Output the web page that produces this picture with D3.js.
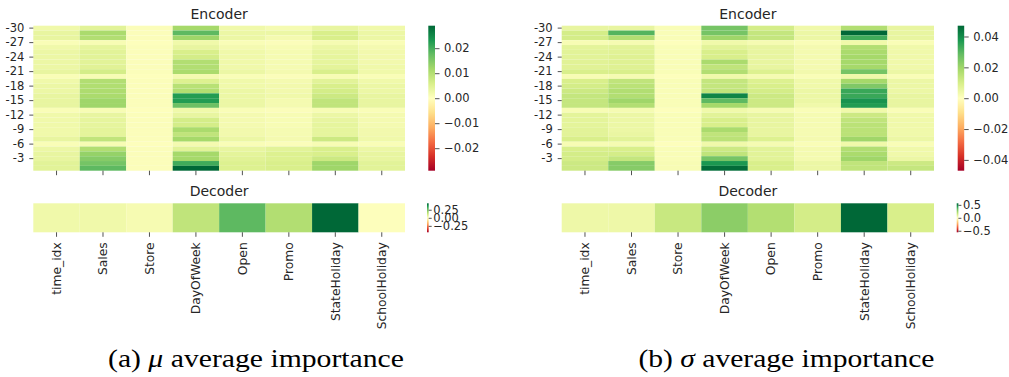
<!DOCTYPE html>
<html>
<head>
<meta charset="utf-8">
<script src="https://cdn.jsdelivr.net/npm/d3@7"></script>
<style>
  html, body { margin: 0; padding: 0; background: #fff; }
  svg { display: block; }
  .sans { font-family: "DejaVu Sans", sans-serif; fill: #262626; }
  .caption { font-family: "Liberation Serif", "Times New Roman", serif; fill: #000; }
</style>
</head>
<body>
<svg id="chart" width="1009" height="377"></svg>
<script>
// Model inputs (columns) and encoder lags (rows)
const features = ["time_idx", "Sales", "Store", "DayOfWeek", "Open", "Promo", "StateHoliday", "SchoolHoliday"];
const lags = [-30, -29, -28, -27, -26, -25, -24, -23, -22, -21, -20, -19, -18, -17, -16,
              -15, -14, -13, -12, -11, -10, -9, -8, -7, -6, -5, -4, -3, -2, -1];
const lagTicks = [-30, -27, -24, -21, -18, -15, -12, -9, -6, -3];

// (a) mu: encoder importance, one row per lag, columns in feature order
const encoderMu = [
  [0.0023, 0.0044, 0.0006, 0.0116, 0.0023, 0.0015, 0.0035, 0.0023],
  [0.0035, 0.0110, 0.0006, 0.0180, 0.0029, 0.0029, 0.0058, 0.0029],
  [0.0035, 0.0102, 0.0006, 0.0122, 0.0029, 0.0017, 0.0058, 0.0029],
  [0.0009, 0.0012, 0.0003, 0.0023, 0.0009, 0.0006, 0.0015, 0.0009],
  [0.0023, 0.0038, 0.0006, 0.0035, 0.0017, 0.0012, 0.0029, 0.0017],
  [0.0029, 0.0044, 0.0006, 0.0058, 0.0023, 0.0015, 0.0035, 0.0020],
  [0.0029, 0.0044, 0.0006, 0.0064, 0.0023, 0.0015, 0.0038, 0.0020],
  [0.0029, 0.0044, 0.0006, 0.0102, 0.0023, 0.0015, 0.0038, 0.0020],
  [0.0029, 0.0046, 0.0006, 0.0102, 0.0023, 0.0015, 0.0041, 0.0023],
  [0.0035, 0.0064, 0.0006, 0.0110, 0.0029, 0.0017, 0.0058, 0.0023],
  [0.0009, 0.0012, 0.0003, 0.0017, 0.0009, 0.0006, 0.0012, 0.0009],
  [0.0023, 0.0102, 0.0006, 0.0052, 0.0023, 0.0017, 0.0044, 0.0023],
  [0.0029, 0.0104, 0.0006, 0.0096, 0.0023, 0.0020, 0.0058, 0.0029],
  [0.0029, 0.0107, 0.0006, 0.0104, 0.0029, 0.0020, 0.0064, 0.0029],
  [0.0035, 0.0110, 0.0006, 0.0226, 0.0029, 0.0023, 0.0073, 0.0035],
  [0.0035, 0.0122, 0.0006, 0.0226, 0.0029, 0.0017, 0.0087, 0.0035],
  [0.0035, 0.0122, 0.0006, 0.0168, 0.0029, 0.0017, 0.0087, 0.0035],
  [0.0009, 0.0012, 0.0003, 0.0023, 0.0009, 0.0006, 0.0012, 0.0009],
  [0.0023, 0.0035, 0.0006, 0.0035, 0.0017, 0.0012, 0.0029, 0.0017],
  [0.0023, 0.0038, 0.0006, 0.0064, 0.0017, 0.0012, 0.0035, 0.0017],
  [0.0023, 0.0038, 0.0006, 0.0064, 0.0017, 0.0012, 0.0038, 0.0017],
  [0.0023, 0.0041, 0.0006, 0.0110, 0.0020, 0.0015, 0.0038, 0.0020],
  [0.0023, 0.0041, 0.0006, 0.0087, 0.0020, 0.0015, 0.0038, 0.0020],
  [0.0035, 0.0087, 0.0006, 0.0116, 0.0029, 0.0017, 0.0073, 0.0023],
  [0.0009, 0.0012, 0.0003, 0.0017, 0.0009, 0.0006, 0.0012, 0.0009],
  [0.0029, 0.0102, 0.0006, 0.0044, 0.0035, 0.0044, 0.0058, 0.0029],
  [0.0035, 0.0131, 0.0006, 0.0116, 0.0041, 0.0052, 0.0058, 0.0035],
  [0.0035, 0.0145, 0.0006, 0.0116, 0.0046, 0.0052, 0.0073, 0.0035],
  [0.0044, 0.0160, 0.0006, 0.0203, 0.0052, 0.0058, 0.0122, 0.0044],
  [0.0044, 0.0180, 0.0006, 0.0290, 0.0052, 0.0058, 0.0122, 0.0044]
];
const decoderMu = [0.036, 0.036, 0.022, 0.135, 0.280, 0.158, 0.450, 0.005];

// (b) sigma: encoder importance, one row per lag, columns in feature order
const encoderSigma = [
  [0.0056, 0.0056, 0.0014, 0.0259, 0.0103, 0.0038, 0.0165, 0.0056],
  [0.0103, 0.0306, 0.0014, 0.0259, 0.0132, 0.0047, 0.0470, 0.0056],
  [0.0103, 0.0165, 0.0014, 0.0197, 0.0132, 0.0047, 0.0329, 0.0056],
  [0.0019, 0.0024, 0.0005, 0.0038, 0.0024, 0.0014, 0.0038, 0.0014],
  [0.0066, 0.0071, 0.0014, 0.0071, 0.0056, 0.0028, 0.0165, 0.0038],
  [0.0071, 0.0075, 0.0014, 0.0094, 0.0056, 0.0028, 0.0179, 0.0038],
  [0.0071, 0.0080, 0.0014, 0.0094, 0.0056, 0.0028, 0.0188, 0.0038],
  [0.0075, 0.0080, 0.0014, 0.0179, 0.0056, 0.0028, 0.0188, 0.0038],
  [0.0075, 0.0080, 0.0014, 0.0141, 0.0056, 0.0028, 0.0188, 0.0038],
  [0.0094, 0.0094, 0.0014, 0.0165, 0.0085, 0.0033, 0.0259, 0.0047],
  [0.0019, 0.0024, 0.0005, 0.0038, 0.0024, 0.0014, 0.0038, 0.0014],
  [0.0094, 0.0141, 0.0014, 0.0132, 0.0085, 0.0038, 0.0188, 0.0047],
  [0.0103, 0.0150, 0.0014, 0.0132, 0.0094, 0.0038, 0.0244, 0.0047],
  [0.0118, 0.0165, 0.0014, 0.0141, 0.0103, 0.0047, 0.0338, 0.0047],
  [0.0132, 0.0165, 0.0014, 0.0414, 0.0118, 0.0047, 0.0338, 0.0056],
  [0.0132, 0.0197, 0.0014, 0.0291, 0.0118, 0.0047, 0.0385, 0.0056],
  [0.0132, 0.0165, 0.0014, 0.0188, 0.0118, 0.0038, 0.0367, 0.0056],
  [0.0019, 0.0024, 0.0005, 0.0038, 0.0024, 0.0014, 0.0038, 0.0014],
  [0.0066, 0.0047, 0.0014, 0.0071, 0.0056, 0.0024, 0.0118, 0.0038],
  [0.0066, 0.0047, 0.0014, 0.0094, 0.0056, 0.0024, 0.0141, 0.0038],
  [0.0066, 0.0047, 0.0014, 0.0094, 0.0056, 0.0024, 0.0150, 0.0038],
  [0.0071, 0.0047, 0.0014, 0.0179, 0.0056, 0.0024, 0.0150, 0.0038],
  [0.0071, 0.0052, 0.0014, 0.0141, 0.0056, 0.0024, 0.0150, 0.0038],
  [0.0094, 0.0071, 0.0014, 0.0150, 0.0085, 0.0028, 0.0197, 0.0047],
  [0.0019, 0.0024, 0.0005, 0.0038, 0.0024, 0.0014, 0.0038, 0.0014],
  [0.0094, 0.0094, 0.0014, 0.0118, 0.0071, 0.0028, 0.0165, 0.0038],
  [0.0103, 0.0103, 0.0014, 0.0141, 0.0071, 0.0028, 0.0179, 0.0038],
  [0.0103, 0.0132, 0.0014, 0.0259, 0.0071, 0.0028, 0.0197, 0.0047],
  [0.0118, 0.0235, 0.0019, 0.0376, 0.0094, 0.0047, 0.0141, 0.0118],
  [0.0118, 0.0235, 0.0019, 0.0461, 0.0094, 0.0047, 0.0141, 0.0132]
];
const decoderSigma = [0.050, 0.050, 0.150, 0.270, 0.196, 0.123, 0.560, 0.112];

// Colorbar tick values
const encMuTicks = [0.02, 0.01, 0.00, -0.01, -0.02];
const decMuTicks = [0.25, 0.00, -0.25];
const encSigmaTicks = [0.04, 0.02, 0.00, -0.02, -0.04];
const decSigmaTicks = [0.5, 0.0, -0.5];

// Captions
const captions = [
  { label: "(a) ", symbol: "μ", rest: " average importance" },
  { label: "(b) ", symbol: "σ", rest: " average importance" }
];

// Red-Yellow-Green diverging colormap, piecewise linear through the ColorBrewer stops
const rdYlGn = d3.piecewise(d3.interpolateRgb, [
  "#a50026", "#d73027", "#f46d43", "#fdae61", "#fee08b", "#ffffbf",
  "#d9ef8b", "#a6d96a", "#66bd63", "#1a9850", "#006837"
]);

const svg = d3.select("#chart");
const TICK_FONT = 11.5;
const XLABEL_FONT = 12.3;
const TITLE_FONT = 14;

const panels = [
  { enc: encoderMu, dec: decoderMu, encTicks: encMuTicks, decTicks: decMuTicks, fmtEnc: ".2f", fmtDec: ".2f",
    x0: 33.3, x1: 405, cbX: 428.3, cbW: 6.7, decCbX: 427, decCbW: 1.7, caption: captions[0], capX: 256 },
  { enc: encoderSigma, dec: decoderSigma, encTicks: encSigmaTicks, decTicks: decSigmaTicks, fmtEnc: ".2f", fmtDec: ".1f",
    x0: 561.7, x1: 934, cbX: 957.7, cbW: 6.5, decCbX: 956.7, decCbW: 1.7, caption: captions[1], capX: 786.5 }
];

const encTop = 25.7, encBottom = 170.7;
const decTop = 203.3, decBottom = 232.3;

function absMax(values) {
  return d3.max(values, v => Math.abs(v));
}

function styleAxis(axis, fontSize) {
  axis.select(".domain").remove();
  axis.selectAll("line").attr("stroke", "#262626").attr("stroke-width", 0.8);
  axis.selectAll("text").attr("class", "sans").attr("font-size", fontSize).attr("fill", "#262626");
}

function drawColorbar(g, id, x, w, top, bottom, vmax, ticks, fmt, tickLen, pad) {
  const grad = svg.select("defs").append("linearGradient")
    .attr("id", id).attr("x1", 0).attr("y1", 1).attr("x2", 0).attr("y2", 0);
  d3.range(0, 1.0001, 0.05).forEach(t => {
    grad.append("stop").attr("offset", t).attr("stop-color", rdYlGn(t));
  });
  g.append("rect")
    .attr("x", x).attr("y", top).attr("width", w).attr("height", bottom - top)
    .attr("fill", `url(#${id})`);
  const cy = d3.scaleLinear().domain([-vmax, vmax]).range([bottom, top]);
  const axis = g.append("g")
    .attr("transform", `translate(${x + w},0)`)
    .call(d3.axisRight(cy).tickValues(ticks).tickSize(tickLen).tickPadding(pad).tickFormat(d3.format(fmt)));
  styleAxis(axis, TICK_FONT);
}

svg.append("defs");

panels.forEach((p, pi) => {
  const g = svg.append("g");
  const x = d3.scaleBand().domain(features).range([p.x0, p.x1]);
  const yEnc = d3.scaleBand().domain(lags).range([encTop, encBottom]);

  // Encoder heatmap
  const encMax = absMax(p.enc.flat());
  const encColor = d3.scaleDiverging().domain([-encMax, 0, encMax]).interpolator(rdYlGn);
  const cells = [];
  p.enc.forEach((row, ri) => row.forEach((v, ci) => cells.push({ lag: lags[ri], feature: features[ci], v })));
  g.append("g").selectAll("rect").data(cells).join("rect")
    .attr("x", d => x(d.feature))
    .attr("y", d => yEnc(d.lag))
    .attr("width", x.bandwidth())
    .attr("height", yEnc.bandwidth())
    .attr("fill", d => encColor(d.v));

  g.append("text").attr("class", "sans")
    .attr("x", (p.x0 + p.x1) / 2).attr("y", 18.5)
    .attr("text-anchor", "middle").attr("font-size", TITLE_FONT)
    .text("Encoder");

  const yAxis = g.append("g")
    .attr("transform", `translate(${p.x0},0)`)
    .call(d3.axisLeft(yEnc).tickValues(lagTicks).tickSize(4).tickPadding(5));
  styleAxis(yAxis, TICK_FONT);

  const xAxisEnc = g.append("g")
    .attr("transform", `translate(0,${encBottom})`)
    .call(d3.axisBottom(x).tickSize(4.5).tickFormat(""));
  styleAxis(xAxisEnc, TICK_FONT);

  drawColorbar(g, `cbEnc${pi}`, p.cbX, p.cbW, encTop, encBottom, encMax, p.encTicks, p.fmtEnc, 4.5, 4.5);

  // Decoder heatmap
  const decMax = absMax(p.dec);
  const decColor = d3.scaleDiverging().domain([-decMax, 0, decMax]).interpolator(rdYlGn);
  g.append("g").selectAll("rect").data(features).join("rect")
    .attr("x", f => x(f))
    .attr("y", decTop)
    .attr("width", x.bandwidth())
    .attr("height", decBottom - decTop)
    .attr("fill", (f, i) => decColor(p.dec[i]));

  g.append("text").attr("class", "sans")
    .attr("x", (p.x0 + p.x1) / 2).attr("y", 196)
    .attr("text-anchor", "middle").attr("font-size", TITLE_FONT)
    .text("Decoder");

  const xAxisDec = g.append("g")
    .attr("transform", `translate(0,${decBottom})`)
    .call(d3.axisBottom(x).tickSize(4.5).tickPadding(5));
  styleAxis(xAxisDec, XLABEL_FONT);
  xAxisDec.selectAll("text")
    .attr("transform", "rotate(-90)")
    .attr("text-anchor", "end")
    .attr("x", -10).attr("y", 0).attr("dy", "0.35em");

  drawColorbar(g, `cbDec${pi}`, p.decCbX, p.decCbW, decTop, decBottom, decMax, p.decTicks, p.fmtDec, 3, 1.5);

  // Sub-figure caption
  const cap = g.append("text").attr("class", "caption")
    .attr("x", p.capX).attr("y", 367)
    .attr("text-anchor", "middle")
    .attr("font-size", 26)
    .attr("textLength", 296).attr("lengthAdjust", "spacingAndGlyphs");
  cap.append("tspan").text(p.caption.label);
  cap.append("tspan").attr("font-style", "italic").text(p.caption.symbol);
  cap.append("tspan").text(p.caption.rest);
});
</script>
</body>
</html>
